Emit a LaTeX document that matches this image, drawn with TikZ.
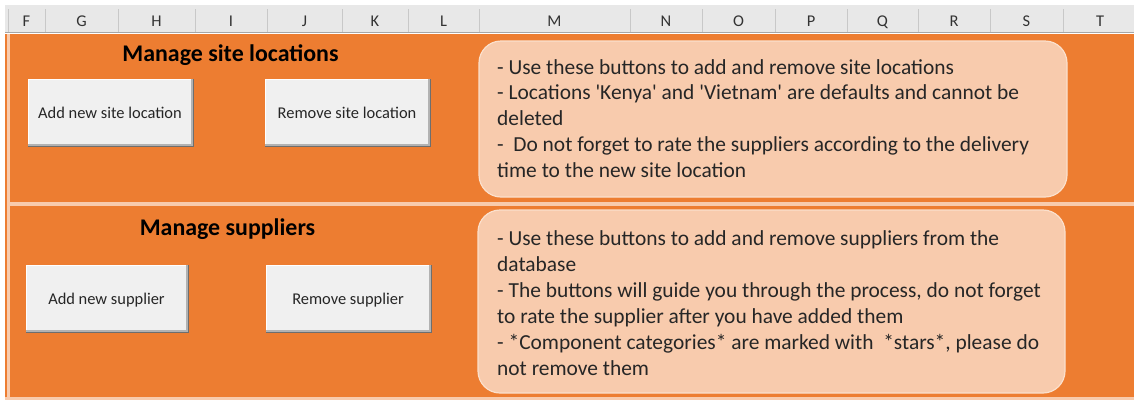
\documentclass[tikz,border=0pt]{standalone}
\usepackage{fontspec}
\setmainfont{Carlito}
\definecolor{sheetorange}{HTML}{ED7D31}
\definecolor{peach}{HTML}{F8CBAD}
\definecolor{peachline}{HTML}{FBE0CC}
\definecolor{hdrgray}{HTML}{E8E8E8}
\definecolor{hdrline}{HTML}{C8C8C8}
\definecolor{btnface}{HTML}{F0F0F0}
\definecolor{btnshade}{HTML}{6E6E6E}
\tikzset{
  colhead/.style={anchor=base, inner sep=0pt, text=black!80, font=\fontsize{16.5}{18}\selectfont},
  title/.style={anchor=base, inner sep=0pt, font=\fontsize{24}{28}\selectfont\bfseries},
  btnlabel/.style={anchor=base, inner sep=0pt, text=black!85, font=\fontsize{16.5}{18}\selectfont},
  note/.style={draw=peachline, line width=1.2pt, fill=peach, rounded corners=22bp},
  noteline/.style={anchor=base west, inner sep=0pt, text=black!85, font=\fontsize{21.5}{25.8}\selectfont},
  divider/.style={draw=peach, line width=3.5bp},
}
% push button: dark shadow edge, light face, caption
\newcommand{\pushbutton}[5]{%
  \fill[btnshade] (#1,#2) rectangle (#3,#4);
  \fill[gray!60] (#1,#2) rectangle (#3-1.5,#4-1.5);
  \fill[white] (#1,#2) rectangle (#3-3,#4-3);
  \fill[btnface] (#1+1,#2+1) rectangle (#3-3,#4-3);
}
\begin{document}
\begin{tikzpicture}[x=1bp,y=-1bp]
\useasboundingbox (0,0) rectangle (1134,401);
\fill[white] (0,0) rectangle (1134,401);

% column header bar
\fill[hdrgray] (5,5) rectangle (1134,33);
\draw[gray!70, line width=1.2bp] (5,32.5) -- (1134,32.5);
\foreach \x in {8,45,118,195,267,342,408,479,630,702,775,847,918,990,1063}
  \draw[hdrline, line width=1bp] (\x,9) -- (\x,32);
\foreach \x/\l in {26.5/F,81.5/G,156.5/H,231/I,304.5/J,375/K,443.5/L,554.5/M,666/N,738.5/O,811/P,882.5/Q,954/R,1026.5/S,1100/T}
  \node[colhead] (col\l) at (\x,26) {\l};

% sheet area
\fill[sheetorange] (5,34) rectangle (1134,399.5);
\draw[divider] (8.5,34) -- (8.5,399.5);
\draw[divider] (8.5,204) -- (1134,204);
\draw[divider, line width=3bp] (5,398) -- (1134,398);

% site locations block
\node[title] (siteTitle) at (230.5,61) {Manage site locations};
\pushbutton{28}{79}{194}{147}{}
\node[btnlabel] (addSite) at (110,118.5) {Add new site location};
\pushbutton{265}{79}{431}{147}{}
\node[btnlabel] (removeSite) at (347,118.5) {Remove site location};

\path[note] (479,41) rectangle (1067,197);
\foreach \t [count=\i] in {
  {- Use these buttons to add and remove site locations},
  {- Locations \textquotesingle Kenya\textquotesingle\ and \textquotesingle Vietnam\textquotesingle\ are defaults and cannot be},
  {deleted},
  {-\ \ Do not forget to rate the suppliers according to the delivery},
  {time to the new site location}}
  \node[noteline] (siteNote\i) at (497,{74+25.8*(\i-1)}) {\t};

% suppliers block
\node[title] (supTitle) at (227.5,235) {Manage suppliers};
\pushbutton{26}{265}{189}{333}{}
\node[btnlabel] (addSup) at (106.5,304.5) {Add new supplier};
\pushbutton{266}{265}{432}{333}{}
\node[btnlabel] (removeSup) at (348,304.5) {Remove supplier};

\path[note] (478,210) rectangle (1065,393);
\foreach \t [count=\i] in {
  {- Use these buttons to add and remove suppliers from the},
  {database},
  {- The buttons will guide you through the process, do not forget},
  {to rate the supplier after you have added them},
  {- *Component categories* are marked with\ \ *stars*, please do},
  {not remove them}}
  \node[noteline] (supNote\i) at (497,{245+26*(\i-1)}) {\t};
\end{tikzpicture}
\end{document}
